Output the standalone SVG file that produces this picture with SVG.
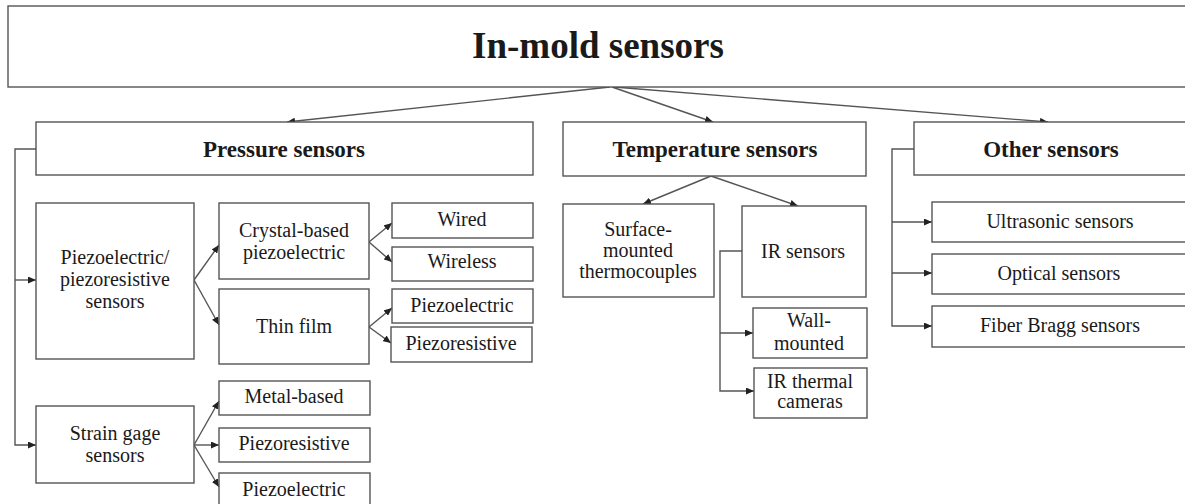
<svg xmlns="http://www.w3.org/2000/svg" width="1185" height="504" viewBox="0 0 1185 504" font-family="'Liberation Serif', 'DejaVu Serif', serif">
  <defs>
    <style>
      .box { fill: #ffffff; stroke: #555555; stroke-width: 1.4; }
      .lnk { fill: none; stroke: #555555; stroke-width: 1.4; }
      .arr { marker-end: url(#head); }
      text { font-family: 'Liberation Serif', 'DejaVu Serif', serif; fill: #1a1a1a; text-anchor: middle; }
      .title { font-size: 37px; font-weight: bold; }
      .head { font-size: 23px; font-weight: bold; }
      .lbl { font-size: 20px; }
    </style>
    <marker id="head" viewBox="0 0 8 7" refX="8" refY="3.5" markerWidth="8" markerHeight="7" markerUnits="userSpaceOnUse" orient="auto">
      <path d="M0,0 L8,3.5 L0,7 z" fill="#222222"/>
    </marker>
  </defs>
  <rect width="1185" height="504" fill="#ffffff"/>

  <!-- connectors -->
  <g id="connectors">
    <line class="lnk arr" x1="610" y1="87" x2="287" y2="122"/>
    <line class="lnk arr" x1="612" y1="87" x2="713" y2="122"/>
    <line class="lnk arr" x1="614" y1="87" x2="1048" y2="122"/>

    <path class="lnk arr" d="M36,149 H15 V445 H36"/>
    <line class="lnk arr" x1="15" y1="280" x2="36" y2="280"/>

    <line class="lnk arr" x1="194" y1="280" x2="219" y2="245"/>
    <line class="lnk arr" x1="194" y1="280" x2="219" y2="325"/>

    <line class="lnk arr" x1="369" y1="242" x2="392" y2="223"/>
    <line class="lnk arr" x1="369" y1="242" x2="392" y2="262"/>
    <line class="lnk arr" x1="369" y1="327" x2="392" y2="308"/>
    <line class="lnk arr" x1="369" y1="327" x2="391" y2="343"/>

    <line class="lnk arr" x1="194" y1="445" x2="219" y2="401"/>
    <line class="lnk arr" x1="194" y1="445" x2="219" y2="445"/>
    <line class="lnk arr" x1="194" y1="445" x2="219" y2="487"/>

    <line class="lnk arr" x1="711" y1="176" x2="643" y2="204"/>
    <line class="lnk arr" x1="711" y1="176" x2="798" y2="206"/>

    <path class="lnk arr" d="M742,251 H720 V391 H754"/>
    <line class="lnk arr" x1="720" y1="333" x2="753" y2="333"/>

    <path class="lnk arr" d="M914,149 H892 V326 H932"/>
    <line class="lnk arr" x1="892" y1="222" x2="932" y2="222"/>
    <line class="lnk arr" x1="892" y1="273" x2="932" y2="273"/>
  </g>

  <!-- root -->
  <g id="in-mold-sensors">
    <rect class="box" x="8" y="6" width="1190" height="81"/>
    <text class="title" x="598" y="58">In-mold sensors</text>
  </g>

  <!-- pressure branch -->
  <g id="pressure-sensors">
    <rect class="box" x="36" y="122" width="497" height="53"/>
    <text class="head" x="284" y="157">Pressure sensors</text>
  </g>
  <g id="piezo-sensors">
    <rect class="box" x="36" y="203" width="158" height="156"/>
    <text class="lbl" x="115" y="264">Piezoelectric/</text>
    <text class="lbl" x="115" y="286">piezoresistive</text>
    <text class="lbl" x="115" y="308">sensors</text>
  </g>
  <g id="crystal-based">
    <rect class="box" x="219" y="203" width="150" height="76"/>
    <text class="lbl" x="294" y="237">Crystal-based</text>
    <text class="lbl" x="294" y="259">piezoelectric</text>
  </g>
  <g id="thin-film">
    <rect class="box" x="219" y="289" width="150" height="75"/>
    <text class="lbl" x="294" y="333">Thin film</text>
  </g>
  <g id="wired">
    <rect class="box" x="392" y="203" width="141" height="35"/>
    <text class="lbl" x="462" y="226">Wired</text>
  </g>
  <g id="wireless">
    <rect class="box" x="392" y="247" width="141" height="34"/>
    <text class="lbl" x="462" y="268">Wireless</text>
  </g>
  <g id="thin-film-piezoelectric">
    <rect class="box" x="392" y="289" width="141" height="34"/>
    <text class="lbl" x="462" y="312">Piezoelectric</text>
  </g>
  <g id="thin-film-piezoresistive">
    <rect class="box" x="391" y="327" width="141" height="35"/>
    <text class="lbl" x="461" y="350">Piezoresistive</text>
  </g>
  <g id="strain-gage">
    <rect class="box" x="36" y="406" width="158" height="77"/>
    <text class="lbl" x="115" y="440">Strain gage</text>
    <text class="lbl" x="115" y="462">sensors</text>
  </g>
  <g id="metal-based">
    <rect class="box" x="219" y="381" width="151" height="34"/>
    <text class="lbl" x="294" y="403">Metal-based</text>
  </g>
  <g id="strain-piezoresistive">
    <rect class="box" x="219" y="428" width="151" height="34"/>
    <text class="lbl" x="294" y="450">Piezoresistive</text>
  </g>
  <g id="strain-piezoelectric">
    <rect class="box" x="219" y="473" width="151" height="40"/>
    <text class="lbl" x="294" y="496">Piezoelectric</text>
  </g>

  <!-- temperature branch -->
  <g id="temperature-sensors">
    <rect class="box" x="563" y="122" width="303" height="54"/>
    <text class="head" x="715" y="157">Temperature sensors</text>
  </g>
  <g id="surface-thermocouples">
    <rect class="box" x="563" y="204" width="151" height="93"/>
    <text class="lbl" x="638" y="236">Surface-</text>
    <text class="lbl" x="638" y="257">mounted</text>
    <text class="lbl" x="638" y="278">thermocouples</text>
  </g>
  <g id="ir-sensors">
    <rect class="box" x="742" y="206" width="124" height="91"/>
    <text class="lbl" x="803" y="258">IR sensors</text>
  </g>
  <g id="wall-mounted">
    <rect class="box" x="753" y="308" width="114" height="50"/>
    <text class="lbl" x="809" y="327">Wall-</text>
    <text class="lbl" x="809" y="350">mounted</text>
  </g>
  <g id="ir-cameras">
    <rect class="box" x="754" y="368" width="113" height="50"/>
    <text class="lbl" x="810" y="388">IR thermal</text>
    <text class="lbl" x="810" y="408">cameras</text>
  </g>

  <!-- other branch -->
  <g id="other-sensors">
    <rect class="box" x="914" y="122" width="276" height="53"/>
    <text class="head" x="1051" y="157">Other sensors</text>
  </g>
  <g id="ultrasonic">
    <rect class="box" x="932" y="202" width="260" height="40"/>
    <text class="lbl" x="1060" y="228">Ultrasonic sensors</text>
  </g>
  <g id="optical">
    <rect class="box" x="932" y="254" width="260" height="40"/>
    <text class="lbl" x="1059" y="280">Optical sensors</text>
  </g>
  <g id="fiber-bragg">
    <rect class="box" x="932" y="306" width="260" height="41"/>
    <text class="lbl" x="1060" y="332">Fiber Bragg sensors</text>
  </g>
</svg>
